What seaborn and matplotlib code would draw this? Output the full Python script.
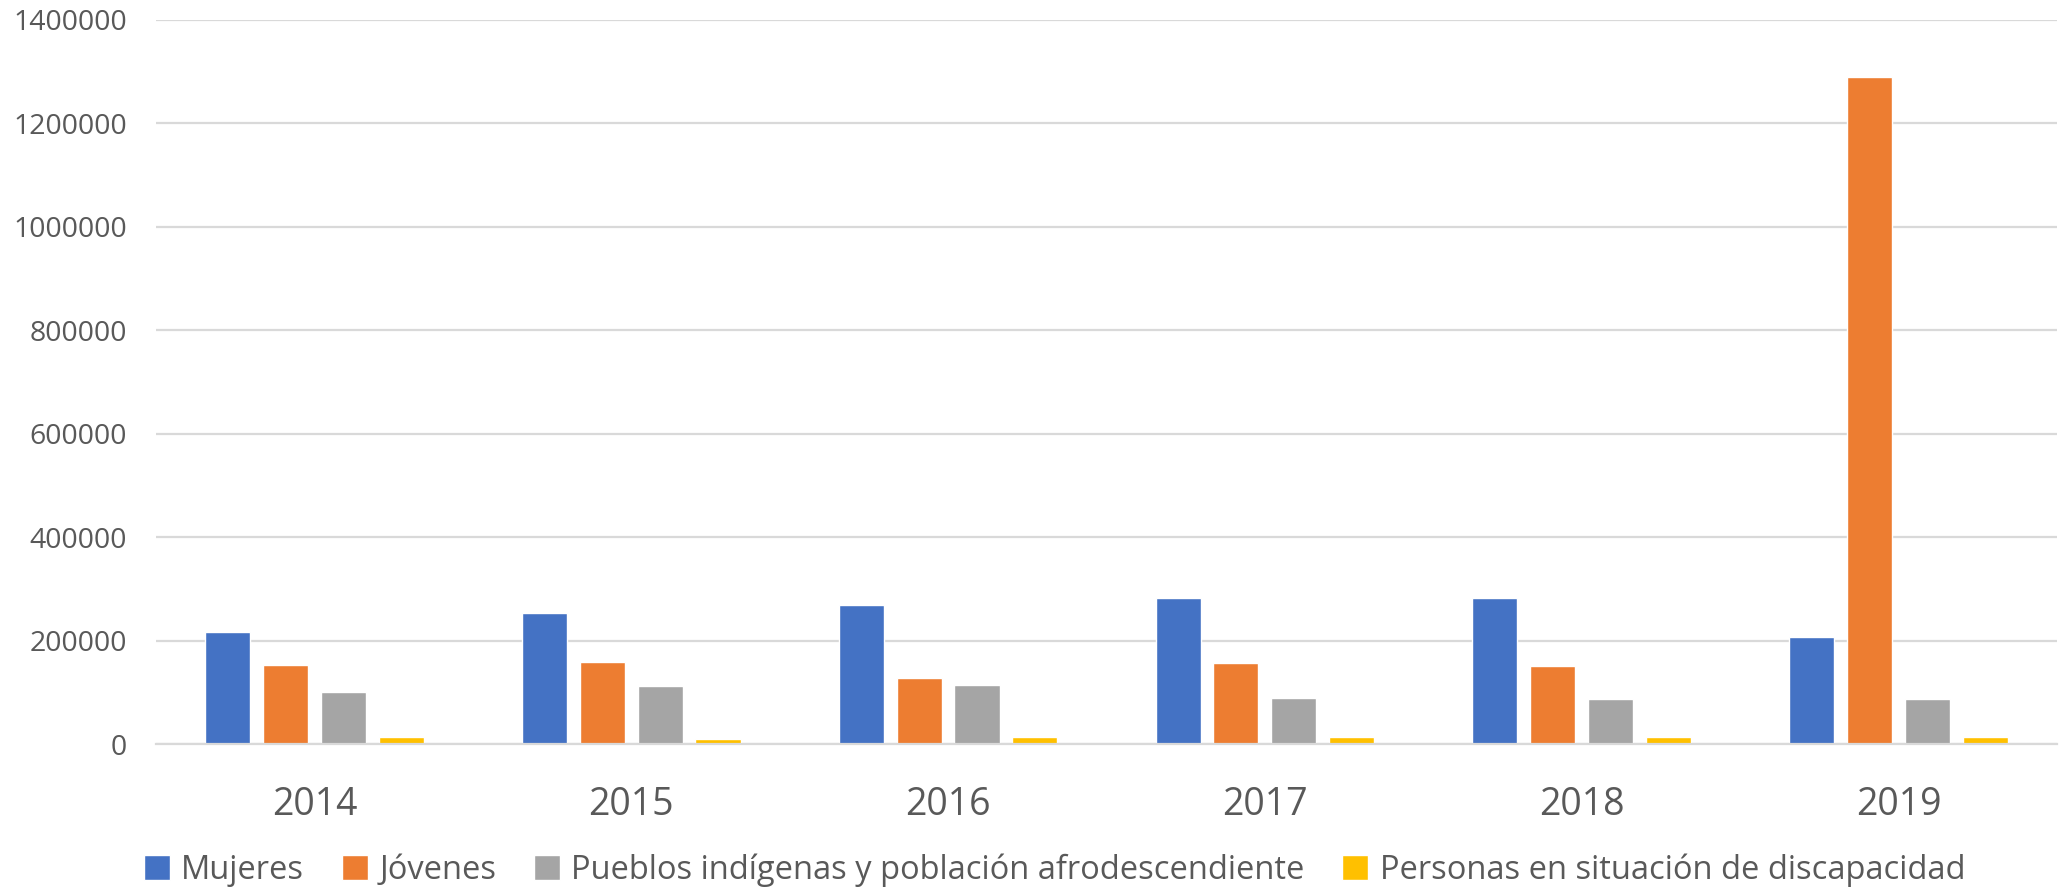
import pandas as pd
import seaborn as sns
import matplotlib.pyplot as plt

years = ['2014', '2015', '2016', '2017', '2018', '2019']
mujeres = [216000, 254000, 268700, 282300, 282900, 206100]
jovenes = [152400, 157900, 127600, 156600, 150200, 1289300]
pueblos = [99800, 111800, 113300, 88200, 87700, 87700]
personas = [13000, 10500, 12800, 13500, 14300, 13200]

series = ['Mujeres', 'Jóvenes', 'Pueblos indígenas y población afrodescendiente',
          'Personas en situación de discapacidad']
colors = ['#4472C4', '#ED7D31', '#A5A5A5', '#FFC000']

df = pd.DataFrame({'Año': years, series[0]: mujeres, series[1]: jovenes,
                   series[2]: pueblos, series[3]: personas})
long = df.melt(id_vars='Año', var_name='Grupo', value_name='Valor')

sns.set_style('white')
plt.rcParams['font.family'] = ['Open Sans', 'DejaVu Sans']
text_color = '#595959'

fig, ax = plt.subplots(figsize=(20.61, 8.89), dpi=100)
fig.subplots_adjust(left=0.0757, right=0.998, top=0.978, bottom=0.163)

sns.barplot(data=long, x='Año', y='Valor', hue='Grupo', hue_order=series,
            palette=colors, width=0.73, gap=0.22, saturation=1, errorbar=None, ax=ax)

ax.set_ylim(0, 1400000)
ax.set_yticks(range(0, 1400001, 200000))
ax.set_yticklabels([str(v) for v in range(0, 1400001, 200000)])
ax.yaxis.grid(True, color='#D9D9D9', linewidth=1.6)
ax.set_axisbelow(True)
for s in ['top', 'right', 'left']:
    ax.spines[s].set_visible(False)
ax.spines['bottom'].set_color('#D9D9D9')
ax.spines['bottom'].set_linewidth(1.6)
ax.set_xlabel('')
ax.set_ylabel('')
ax.tick_params(axis='y', labelsize=20.5, colors=text_color, length=0, pad=21)
ax.tick_params(axis='x', labelsize=27, colors=text_color, length=0, pad=30)

ax.legend(loc='center', bbox_to_anchor=(0.4726, -0.174), ncol=4, frameon=False,
          fontsize=23.5, labelcolor=text_color, handlelength=0.8, handleheight=0.8,
          handletextpad=0.35, columnspacing=1.15)

fig.savefig('out.png', dpi=100)
